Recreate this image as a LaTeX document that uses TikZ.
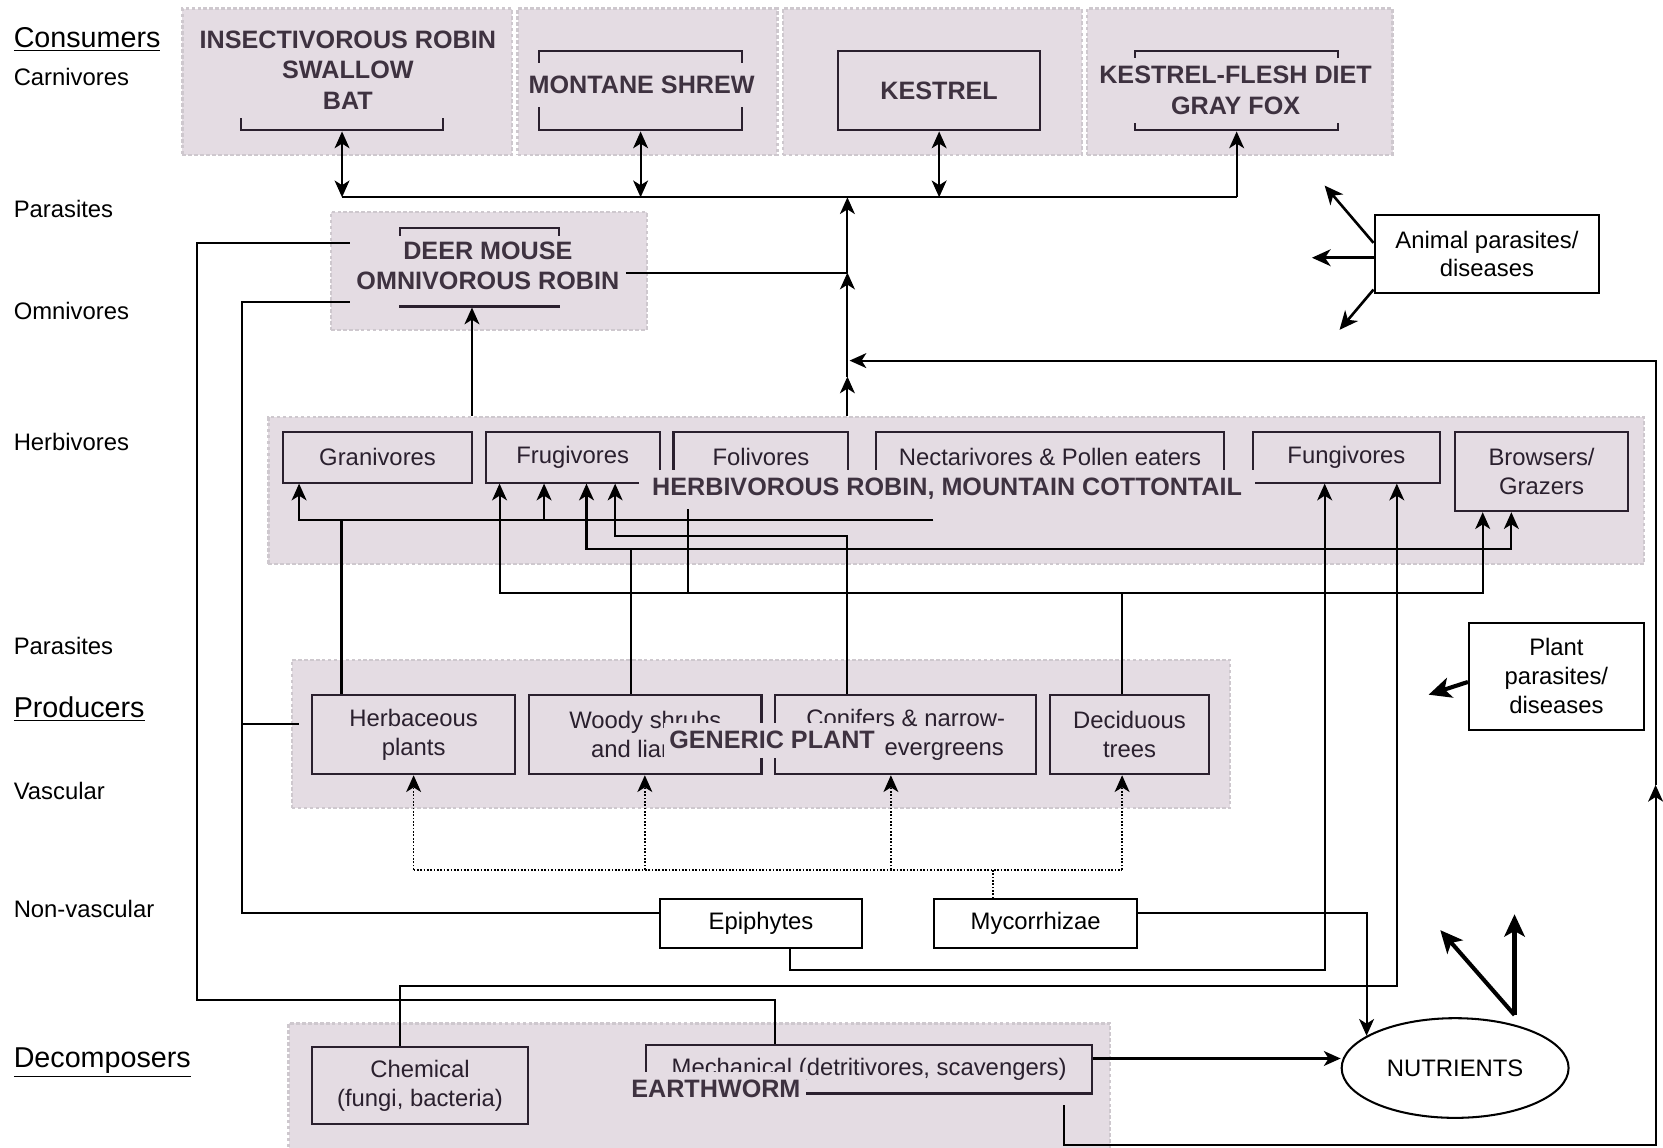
\documentclass[tikz,border=0pt]{standalone}
\usepackage{fontspec}
\setmainfont{Liberation Sans}
\usepackage{xcolor}
\usetikzlibrary{arrows.meta, shapes.geometric}
\definecolor{panelfill}{RGB}{228,220,227}
\definecolor{paneledge}{RGB}{206,200,206}
\definecolor{tagtext}{RGB}{62,50,64}
\definecolor{inkline}{RGB}{42,32,46}

\begin{document}
\begin{tikzpicture}[x=0.02cm, y=-0.02cm,
				line width=1.1pt,
				>={Stealth[length=9pt, width=8pt, inset=2.5pt]},
				panel/.style={fill=panelfill, draw=paneledge, dash pattern=on 2pt off 1.2pt, line width=1.2pt, inner sep=0pt},
				box/.style={draw, inner sep=0pt, align=center, font=\fontsize{12.8}{15.5}\selectfont},
				inbox/.style={box, draw=inkline, text=inkline},
				tag/.style={fill=panelfill, text=tagtext, align=center, inner xsep=3pt, inner ysep=4.5pt, font=\fontsize{13.5}{16.5}\selectfont\bfseries},
				lab/.style={anchor=base west, inner sep=0pt, font=\fontsize{12.8}{15.5}\selectfont},
				head/.style={anchor=base west, inner sep=0pt, font=\fontsize{15.4}{18}\selectfont},
				dots/.style={line width=0.9pt, dash pattern=on 0.9pt off 0.9pt},
				fat/.style={line width=1.4pt, -{Stealth[length=10pt, width=9pt, inset=3pt]}},
				fatter/.style={line width=2.2pt, -{Stealth[length=12pt, width=11pt, inset=3pt]}}]
				\fill[white] (0,0) rectangle (1568,1082);
				\useasboundingbox (0,0) rectangle (1568,1082);
				% shaded groups
				\node at (327.5,77) (pins) [panel, minimum width=6.22cm, minimum height=2.76cm] {};
				\node at (610.5,77) (pshr) [panel, minimum width=4.9cm, minimum height=2.76cm] {};
				\node at (879,77) (pkes) [panel, minimum width=5.64cm, minimum height=2.76cm] {};
				\node at (1169,77) (pfox) [panel, minimum width=5.76cm, minimum height=2.76cm] {};
				\node at (461,255.5) (pomn) [panel, minimum width=5.96cm, minimum height=2.22cm] {};
				\node at (901.5,462.5) (pherb) [panel, minimum width=25.94cm, minimum height=2.78cm] {};
				\node at (717.5,692) (pprod) [panel, minimum width=17.7cm, minimum height=2.8cm] {};
				\node at (659.5,1027.5) (pdec) [panel, minimum width=15.5cm, minimum height=2.5cm] {};
				% levels
				\node at (12,44.5) (cons) [head] {\underline{Consumers}};
				\node at (12,81) (carn) [lab] {Carnivores};
				\node at (12,205) (apara) [lab] {Parasites};
				\node at (12,301) (omni) [lab] {Omnivores};
				\node at (12,425) (herbi) [lab] {Herbivores};
				\node at (12,617) (ppara) [lab] {Parasites};
				\node at (12,676.5) (prod) [head] {\underline{Producers}};
				\node at (12,754) (vasc) [lab] {Vascular};
				\node at (12,865) (nonv) [lab] {Non-vascular};
				\node at (12,1006.5) (deco) [head] {\underline{Decomposers}};
				% boxes
				\node at (322.5,85.5) (insb) [inbox, minimum width=3.82cm, minimum height=1.5cm] {};
				\node at (604,85.5) (shrb) [inbox, minimum width=3.84cm, minimum height=1.5cm] {};
				\node at (885.5,85.5) (kesb) [inbox, minimum width=3.82cm, minimum height=1.5cm, text=tagtext, font=\fontsize{13.5}{16.5}\selectfont\bfseries] {KESTREL};
				\node at (1166,85.5) (foxb) [inbox, minimum width=3.84cm, minimum height=1.5cm] {};
				\node at (452,252) (deerb) [inbox, minimum width=3cm, minimum height=1.48cm] {};
				\node at (356,431) (gran) [inbox, minimum width=3.56cm, minimum height=0.96cm] {Granivores};
				\node at (540,431) (frug) [inbox, minimum width=3.28cm, minimum height=0.96cm] {Frugivores};
				\node at (717.5,431) (foli) [inbox, minimum width=3.3cm, minimum height=0.96cm] {Folivores};
				\node at (990,431) (nect) [inbox, minimum width=6.56cm, minimum height=0.96cm] {Nectarivores \& Pollen eaters};
				\node at (1269.5,431) (fung) [inbox, minimum width=3.54cm, minimum height=0.96cm] {Fungivores};
				\node at (1453.5,444.5) (brow) [inbox, minimum width=3.26cm, minimum height=1.5cm] {Browsers/\\Grazers};
				\node at (390,692.5) (herbp) [inbox, minimum width=3.84cm, minimum height=1.5cm] {Herbaceous\\plants};
				\node at (608.5,692.5) (wood) [inbox, minimum width=4.38cm, minimum height=1.5cm] {Woody shrubs\\and lianas};
				\node at (854,692.5) (coni) [inbox, minimum width=4.92cm, minimum height=1.5cm] {Conifers \& narrow-\\leaved evergreens};
				\node at (1065,692.5) (deci) [inbox, minimum width=3cm, minimum height=1.5cm] {Deciduous\\trees};
				\node at (717.5,871) (epi) [box, minimum width=3.82cm, minimum height=0.92cm] {Epiphytes};
				\node at (976.5,871) (myc) [box, minimum width=3.82cm, minimum height=0.92cm] {Mycorrhizae};
				\node at (396,1023.5) (chem) [inbox, minimum width=4.08cm, minimum height=1.46cm] {Chemical\\(fungi, bacteria)};
				\node at (819.5,1008) (mech) [inbox, minimum width=8.42cm, minimum height=0.92cm] {Mechanical (detritivores, scavengers)};
				\node at (1402,239.5) (apar) [box, minimum width=4.24cm, minimum height=1.46cm] {Animal parasites/\\diseases};
				\node at (1467.5,637.5) (ppar) [box, minimum width=3.3cm, minimum height=2.02cm] {Plant\\parasites/\\diseases};
				\node at (1372,1007) (nut) [draw, ellipse, inner sep=0pt, minimum width=4.28cm, minimum height=1.88cm, font=\fontsize{12.8}{15.5}\selectfont] {NUTRIENTS};
				% species names
				\node at (328,66) (instag) [tag] {INSECTIVOROUS ROBIN\\SWALLOW\\BAT};
				\node at (605,80) (shrtag) [tag, inner ysep=7pt] {MONTANE SHREW};
				\node at (1165,85.5) (foxtag) [tag] {KESTREL-FLESH DIET\\GRAY FOX};
				\node at (460,255) (deertag) [tag, inner ysep=3pt, text depth=5pt] {DEER MOUSE\\OMNIVOROUS ROBIN};
				\node at (893,461) (herbtag) [tag, inner xsep=7pt] {HERBIVOROUS ROBIN, MOUNTAIN COTTONTAIL};
				\node at (728,698) (gentag) [tag] {GENERIC PLANT};
				\node at (675,1027) (wormtag) [tag] {EARTHWORM};
				\coordinate (bus) at (799,186);
				\coordinate (omj) at (799,257);
				\coordinate (mid) at (799,355);
				\coordinate (rj) at (801,340);
				\coordinate (mout) at (1003,1042);
				\coordinate (nb) at (1428,957);
				% consumers
				\draw (insb.south |- bus) -- (foxb.south |- bus);
				\draw[<->] (insb.south) -- (insb.south |- bus);
				\draw[<->] (shrb.south) -- (shrb.south |- bus);
				\draw[<->] (kesb.south) -- (kesb.south |- bus);
				\draw[->] (foxb.south |- bus) -- (foxb.south);
				\draw[->] (pherb.north -| bus) -- (mid);
				\draw[->] (mid) -- (omj);
				\draw[->] (omj) -- (bus);
				\draw (deertag.east |- omj) -- (omj);
				\draw[->] (pherb.north -| 445,0) -- (deerb.south -| 445,0);
				\draw (deertag.west |- 0,229) -| (186,943) -| (mech.north -| 731,0);
				\draw (deertag.west |- 0,285) -| (228,861) -- (epi.west |- 0,861);
				\draw (228,683) -- (282,683);
				% herbivores
				\draw (herbp.north -| 322,0) -- (322,490);
				\draw[->] (880,490) -| (gran.south -| 282,0);
				\draw[->] (513,490) -- (frug.south -| 513,0);
				\draw (wood.north -| 595,0) -- (595,518);
				\draw[->] (595,518) -| (frug.south -| 553,0);
				\draw[->] (595,518) -| (brow.south -| 1425,0);
				\draw[->] (coni.north -| 799,0) |- (580,505) -- (frug.south -| 580,0);
				\draw (deci.north -| 1058,0) -- (1058,559);
				\draw (herbtag.south -| 649,0) -- (649,559);
				\draw[->] (1058,559) -| (frug.south -| 471,0);
				\draw[->] (1058,559) -| (brow.south -| 1398,0);
				\draw[->] (epi.south -| 745,0) |- (1249,915) -- (fung.south -| 1249,0);
				\draw[->] (chem.north -| 377,0) |- (1317,930) -- (fung.south -| 1317,0);
				% mycorrhizae
				\draw[dots] (myc.north -| 936,0) -- (936,820);
				\draw[dots] (390,820) -- (1058,820);
				\draw[dots, ->] (390,820) -- (herbp.south -| 390,0);
				\draw[dots, ->] (608,820) -- (wood.south -| 608,0);
				\draw[dots, ->] (840,820) -- (coni.south -| 840,0);
				\draw[dots, ->] (1058,820) -- (deci.south -| 1058,0);
				% nutrients
				\draw[->] (myc.east |- 0,861) -| (nut.160);
				\draw[->] (mech.east |- 0,998) -- (nut.west |- 0,998);
				\draw[->] (mout) |- (1561,1080) -- (1561,740);
				\draw[->] (1561,740) |- (rj);
				\draw[fat] (apar.west |- 0,229) -- (1249,175);
				\draw[fat] (apar.west |- 0,243) -- (1237,243);
				\draw[fat] (apar.west |- 0,273) -- (1263,311);
				\draw[fatter] (ppar.west |- 0,643) -- (1347,655);
				\draw[fatter] (nb) -- (1428,862);
				\draw[fatter] (nb) -- (1358,877);
			\end{tikzpicture}
\end{document}
